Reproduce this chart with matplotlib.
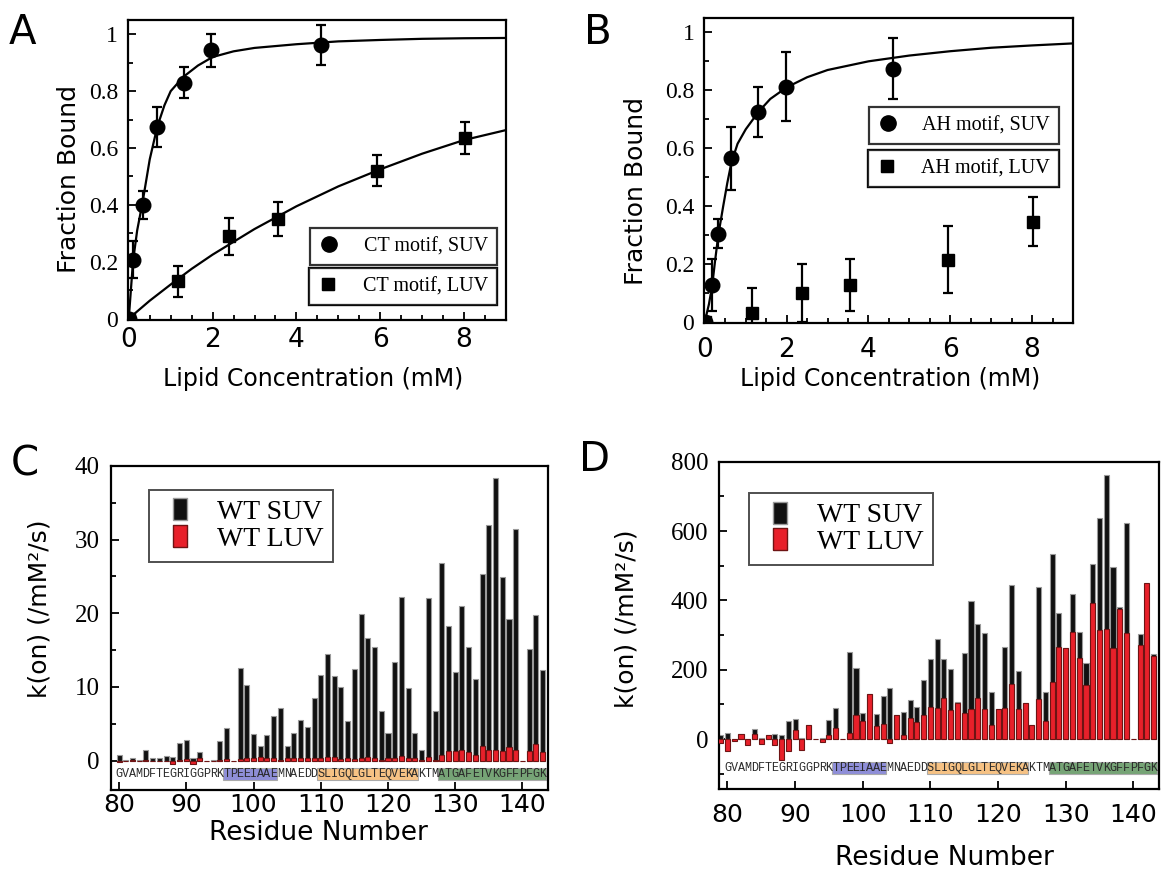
"""
binding curves (A, B) and per-residue k(on) bars (C, D).
"""

import numpy as np
import matplotlib
matplotlib.use('Agg')
import matplotlib.pyplot as plt
from matplotlib.patches import Rectangle
from matplotlib.lines import Line2D

SERIF = 'Liberation Serif'
SANS = 'DejaVu Sans'
MONO = 'Liberation Mono'

# # panel A: CT motif
a_suv_x = [0, 0.095, 0.33, 0.68, 1.31, 1.97, 4.59]
a_suv_y = [0, 0.207, 0.40, 0.675, 0.83, 0.944, 0.961]
a_suv_err = [0, 0.065, 0.05, 0.07, 0.054, 0.058, 0.07]
a_luv_x = [0, 1.185, 2.39, 3.56, 5.93, 8.03]
a_luv_y = [0, 0.131, 0.289, 0.351, 0.520, 0.634]
a_luv_err = [0, 0.055, 0.065, 0.06, 0.054, 0.056]
# fit lines
a_suv_fit_x = [0, 0.05, 0.1, 0.2, 0.33, 0.5, 0.68, 0.85, 1.0, 1.3, 1.65, 2.0, 2.5, 3, 4, 5, 6, 7, 8, 9]
a_suv_fit_y = [0, 0.1, 0.2, 0.31, 0.41, 0.56, 0.675, 0.75, 0.80, 0.85, 0.89, 0.92, 0.94, 0.952, 0.965,
               0.975, 0.98, 0.984, 0.986, 0.987]
a_luv_fit_x = [0, 0.5, 1, 1.5, 2, 2.5, 3, 3.5, 4, 5, 6, 7, 8, 9]
a_luv_fit_y = [0, 0.063, 0.12, 0.175, 0.225, 0.27, 0.315, 0.355, 0.395, 0.465, 0.525, 0.58, 0.628, 0.663]

# # panel B: AH motif
b_suv_x = [0, 0.18, 0.33, 0.65, 1.31, 1.98, 4.6]
b_suv_y = [0, 0.125, 0.303, 0.564, 0.725, 0.812, 0.875]
b_suv_err = [0, 0.09, 0.05, 0.11, 0.085, 0.12, 0.105]
b_luv_x = [0, 1.16, 2.37, 3.55, 5.94, 8.02]
b_luv_y = [0, 0.029, 0.098, 0.127, 0.214, 0.346]
b_luv_err = [0, 0.086, 0.1, 0.089, 0.115, 0.084]
b_suv_fit_x = [0, 0.1, 0.18, 0.25, 0.33, 0.45, 0.55, 0.65, 0.8, 1.0, 1.31, 1.6, 2.0, 2.5, 3, 4, 5, 6, 7, 8, 9]
b_suv_fit_y = [0, 0.06, 0.125, 0.21, 0.30, 0.40, 0.48, 0.55, 0.615, 0.665, 0.725, 0.77, 0.81, 0.845, 0.87,
               0.90, 0.92, 0.935, 0.947, 0.955, 0.962]

# # panel C: k(on), residues 80-143
res_c = np.arange(80, 144)
suv_c = [0.8, 0.1, 0.3, 0.1, 1.4, 0.3, 0.3, 0.6, 0.5, 2.4,
         2.8, 0.3, 1.2, 0.0, 0.1, 2.7, 4.4, 0.0, 12.6, 10.3,
         3.6, 2.0, 3.5, 6.1, 7.2, 2.0, 3.7, 5.5, 4.5, 8.5,
         11.6, 14.5, 11.5, 10.0, 5.4, 12.4, 19.9, 16.6, 15.4, 6.7,
         3.8, 13.4, 22.2, 9.8, 3.7, 1.4, 22.1, 6.7, 26.8, 18.3,
         12.0, 21.0, 15.4, 11.1, 25.3, 32.0, 38.4, 24.9, 19.2, 31.4,
         0.0, 15.2, 19.7, 12.3]
luv_c = [-0.2, 0, 0.1, 0, 0.1, 0, 0, -0.1, -0.5, 0.1,
         0.2, -0.4, 0.3, 0, 0, 0.1, 0.2, 0, 0.2, 0.3,
         0.4, 0.5, 0.3, 0.3, 0.1, 0.4, 0.3, 0.3, 0.3, 0.3,
         0.4, 0.5, 0.45, 0.2, 0.35, 0.2, 0.3, 0.45, 0.3, 0.1,
         0.3, 0.3, 0.6, 0.3, 0.3, 0.1, 0.45, 0.1, 0.7, 1.3,
         1.3, 1.45, 1.1, 0.7, 2.0, 1.5, 1.5, 1.3, 1.8, 1.45,
         0, 1.3, 2.2, 1.1]

# # panel D: k(on), residues 79-143
res_d = np.arange(79, 144)
suv_d = [12, 17, 0, 15, 0, 30, 4, 11, 15, 13,
         51, 58, 4, 41, 0, 4, 55, 90, 0, 251,
         206, 75, 130, 71, 124, 146, 70, 77, 113, 92,
         171, 232, 289, 230, 201, 108, 247, 397, 331, 306,
         135, 87, 265, 443, 197, 103, 42, 439, 135, 533,
         364, 263, 418, 308, 220, 504, 637, 763, 495, 381,
         623, 0, 302, 300, 245]
luv_d = [-11, -34, -7, 15, -16, 15, -14, 11, -18, -60,
         -34, 26, -32, 41, 0, -8, 13, 32, 0, 17,
         70, 51, 130, 37, 44, -11, 70, 12, 61, 49,
         68, 93, 89, 119, 83, 105, 74, 86, 119, 86,
         42, 87, 91, 158, 86, 103, 42, 116, 53, 165,
         266, 263, 308, 235, 155, 393, 315, 318, 263, 374,
         305, 0, 272, 451, 241]

SEQ = 'GVAMDFTEGRIGGPRKTPEEIAAEMNAEDDSLIGQLGLTEQVEKAKTMATGAFETVKGFFPFGK'
SEQ_START = 80
DOMAINS = [(96, 103, '#8e8ed8'), (110, 124, '#f6c284'), (128, 143, '#76a476')]

BLACK = '#111111'
RED = '#e8202a'
BAR_MARK = [(-0.3, -0.5), (0.3, -0.5), (0.3, 0.5), (-0.3, 0.5), (-0.3, -0.5)]


def style_axes(ax):
    for sp in ax.spines.values():
        sp.set_linewidth(1.6)
    ax.tick_params(which='both', direction='in', top=False, right=False, width=1.3)
    ax.tick_params(which='major', length=6)
    ax.tick_params(which='minor', length=3.5)


def two_legends(ax, handles, labels, anchors):
    for h, lab, anc in zip(handles, labels, anchors):
        leg = ax.legend([h], [lab], loc='upper right', bbox_to_anchor=anc, frameon=True, fancybox=False,
                        prop={'family': SERIF, 'size': 14.5}, handlelength=1.0, handletextpad=1.2,
                        borderpad=0.45, borderaxespad=0)
        leg.get_frame().set_edgecolor('black')
        leg.get_frame().set_linewidth(1.6)
        ax.add_artist(leg)


def binding_panel(ax, suv, luv, fits, labels, anchors, xpad, label_pos):
    for fx, fy in fits:
        ax.plot(fx, fy, color='black', lw=1.6, zorder=2)
    sx, sy, se = suv
    lx, ly, le = luv
    ax.errorbar(lx, ly, yerr=le, fmt='s', color='black', ms=9, capsize=3.5, elinewidth=1.6,
                capthick=1.6, zorder=3)
    ax.errorbar(sx, sy, yerr=se, fmt='o', color='black', ms=10.5, capsize=3.5, elinewidth=1.6,
                capthick=1.6, zorder=4)
    ax.set_xlim(-0.02, 9)
    ax.set_ylim(-0.005, 1.05)
    ax.set_xticks([0, 2, 4, 6, 8], ['0', '2', '4', '6', '8'], fontfamily=SANS, fontsize=19)
    ax.set_xticks(np.arange(0, 9.01, 0.5), minor=True)
    ax.set_yticks([0, 0.2, 0.4, 0.6, 0.8, 1.0], ['0', '0.2', '0.4', '0.6', '0.8', '1'],
                  fontfamily=SERIF, fontsize=17)
    ax.set_yticks(np.arange(0, 1.01, 0.1), minor=True)
    style_axes(ax)
    ax.tick_params(axis='x', pad=xpad)
    ax.tick_params(axis='y', pad=7)
    ax.set_xlabel('Lipid Concentration (mM)', fontfamily=SANS, fontsize=17)
    ax.set_ylabel('Fraction Bound', fontfamily=SANS, fontsize=18)
    ax.xaxis.set_label_coords(*label_pos[0])
    ax.yaxis.set_label_coords(*label_pos[1])
    handles = [Line2D([], [], marker='o', ls='', color='black', ms=11),
               Line2D([], [], marker='s', ls='', color='black', ms=8.5)]
    two_legends(ax, handles, labels, anchors)


def kon_panel(ax, res, suv, luv, ylim, yticks, yminor, seq_y, box_y, xpad, label_pos, leg_anchor):
    ax.bar(res, suv, width=0.75, color=BLACK, edgecolor='#9a9a9a', linewidth=0.8, zorder=2)
    ax.bar(res, luv, width=0.75, color=RED, edgecolor='#6e1414', linewidth=0.8, zorder=3)
    # sequence strip with highlighted motifs
    for start, end, col in DOMAINS:
        ax.add_patch(Rectangle((start - 0.5, box_y[0]), end - start + 1, box_y[1] - box_y[0],
                               facecolor=col, edgecolor='#aaaaaa', linewidth=0.8, zorder=1))
    for i, letter in enumerate(SEQ):
        ax.text(SEQ_START + i, seq_y, letter, ha='center', va='center', fontfamily=MONO,
                fontsize=8.5, color='#2a2a2a', zorder=4)
    ax.set_xlim(78.8, 143.8)
    ax.set_ylim(*ylim)
    ax.set_xticks(np.arange(80, 141, 10), [str(v) for v in range(80, 141, 10)], fontfamily=SANS, fontsize=18)
    ax.set_yticks(yticks, [str(v) for v in yticks], fontfamily=SERIF, fontsize=18)
    ax.set_yticks(yminor, minor=True)
    style_axes(ax)
    ax.tick_params(axis='x', pad=xpad)
    ax.tick_params(axis='y', pad=8)
    ax.set_xlabel('Residue Number', fontfamily=SANS, fontsize=19)
    ax.set_ylabel('k(on) (/mM²/s)', fontfamily=SANS, fontsize=18)
    ax.xaxis.set_label_coords(*label_pos[0])
    ax.yaxis.set_label_coords(*label_pos[1])
    handles = [Line2D([], [], ls='', marker=BAR_MARK, ms=16, markerfacecolor=BLACK,
                      markeredgecolor='#9a9a9a', markeredgewidth=1.0),
               Line2D([], [], ls='', marker=BAR_MARK, ms=16, markerfacecolor=RED,
                      markeredgecolor='#6e1414', markeredgewidth=1.0)]
    leg = ax.legend(handles, ['WT SUV', 'WT LUV'], loc='upper left', bbox_to_anchor=leg_anchor,
                    frameon=True, fancybox=False, prop={'family': SERIF, 'size': 20},
                    handlelength=1.5, handletextpad=0.6, labelspacing=0.05,
                    borderpad=0.35, borderaxespad=0)
    leg.get_frame().set_edgecolor('#222222')
    leg.get_frame().set_linewidth(1.4)


fig = plt.figure(figsize=(11.61, 8.72), dpi=100)

ax_a = fig.add_axes([0.1102, 0.633, 0.3256, 0.344])
binding_panel(ax_a, (a_suv_x, a_suv_y, a_suv_err), (a_luv_x, a_luv_y, a_luv_err),
              [(a_suv_fit_x, a_suv_fit_y), (a_luv_fit_x, a_luv_fit_y)],
              ['CT motif, SUV', 'CT motif, LUV'], [(0.976, 0.307), (0.976, 0.173)],
              xpad=5, label_pos=((0.49, -0.155), (-0.124, 0.47)))

ax_b = fig.add_axes([0.6064, 0.6296, 0.3178, 0.3498])
binding_panel(ax_b, (b_suv_x, b_suv_y, b_suv_err), (b_luv_x, b_luv_y, b_luv_err),
              [(b_suv_fit_x, b_suv_fit_y)],
              ['AH motif, SUV', 'AH motif, LUV'], [(0.962, 0.708), (0.962, 0.567)],
              xpad=10, label_pos=((0.504, -0.144), (-0.152, 0.433)))

ax_c = fig.add_axes([0.0956, 0.094, 0.3764, 0.3716])
kon_panel(ax_c, res_c, suv_c, luv_c, (-4, 40), [0, 10, 20, 30, 40], np.arange(0, 41, 5),
          seq_y=-1.8, box_y=(-2.6, -1.0), xpad=2, label_pos=((0.474, -0.093), (-0.135, 0.56)),
          leg_anchor=(0.087, 0.926))

ax_d = fig.add_axes([0.6196, 0.0948, 0.3787, 0.3757])
kon_panel(ax_d, res_d, suv_d, luv_d, (-145, 800), [0, 200, 400, 600, 800], np.arange(-100, 801, 100),
          seq_y=-84, box_y=(-101, -65), xpad=10, label_pos=((0.513, -0.17), (-0.183, 0.52)),
          leg_anchor=(0.0675, 0.904))

for letter, x, y in [('A', 0.019, 0.985), ('B', 0.515, 0.985), ('C', 0.021, 0.49), ('D', 0.512, 0.495)]:
    fig.text(x, y, letter, fontsize=29, fontfamily=SANS, va='top', ha='center')

fig.savefig('out.png', dpi=100)
